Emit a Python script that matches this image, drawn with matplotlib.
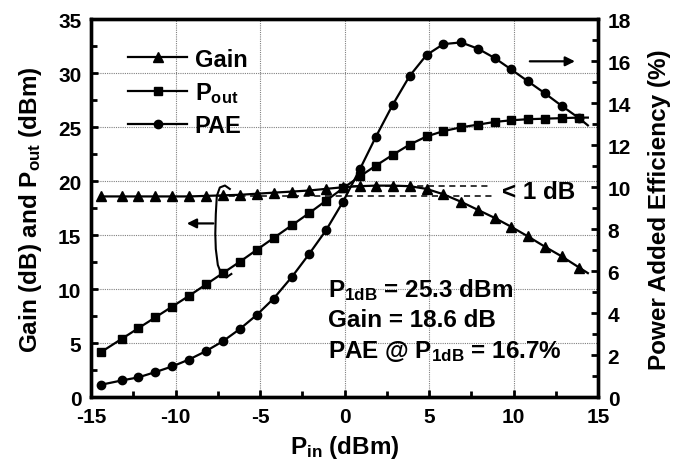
"""Gain, Pout and PAE versus input power.

"""

import numpy as np
import matplotlib
matplotlib.use("Agg")
import matplotlib.pyplot as plt
from matplotlib.lines import Line2D
from matplotlib.ticker import MultipleLocator

plt.rcParams["font.family"] = ["Liberation Sans", "DejaVu Sans"]
plt.rcParams["font.weight"] = "bold"
plt.rcParams["axes.unicode_minus"] = False
plt.rcParams["mathtext.fontset"] = "custom"
plt.rcParams["mathtext.rm"] = "Liberation Sans:bold"
plt.rcParams["mathtext.it"] = "Liberation Sans:bold"
plt.rcParams["mathtext.bf"] = "Liberation Sans:bold"

# Data
pin = [-14.4, -13.2, -12.2, -11.2, -10.2, -9.2, -8.2, -7.2, -6.2, -5.2,
       -4.2, -3.1, -2.1, -1.1, -0.1, 0.9, 1.85, 2.85, 3.85, 4.85,
       5.85, 6.9, 7.9, 8.9, 9.85, 10.85, 11.85, 12.85, 13.9, 14.4]
gain = [18.6, 18.6, 18.6, 18.6, 18.6, 18.6, 18.65, 18.7, 18.75, 18.85,
        18.95, 19.05, 19.15, 19.3, 19.45, 19.55, 19.6, 19.6, 19.55, 19.3,
        18.8, 18.1, 17.35, 16.6, 15.8, 14.9, 13.95, 13.05, 12.0, 11.5]
pout = [4.2, 5.4, 6.4, 7.4, 8.4, 9.4, 10.45, 11.5, 12.55, 13.65,
        14.75, 15.95, 17.05, 18.2, 19.35, 20.45, 21.45, 22.45, 23.4, 24.15,
        24.65, 25.0, 25.25, 25.5, 25.65, 25.75, 25.8, 25.85, 25.9, 25.9]
pae = [0.6, 0.8, 0.95, 1.2, 1.47, 1.8, 2.2, 2.67, 3.25, 3.92,
       4.7, 5.75, 6.82, 7.95, 9.3, 10.85, 12.4, 13.93, 15.3, 16.3,
       16.82, 16.9, 16.6, 16.15, 15.62, 15.05, 14.48, 13.88, 13.28, 12.95]

gain_max = 19.6
gain_ss = 18.6

notes = [r"P$_{\rm 1dB}$ = 25.3 dBm", "Gain = 18.6 dB",
         r"PAE @ P$_{\rm 1dB}$ = 16.7%"]

# Create figure
fig = plt.figure(figsize=(6.85, 4.64), dpi=100)
ax = fig.add_axes([0.133, 0.1416, 0.74, 0.8146])
ax2 = ax.twinx()

marks = list(range(len(pin) - 1))
kw = dict(color="black", linewidth=1.6, markevery=marks)
ax.plot(pin, gain, marker="^", markersize=6.5, **kw)
ax.plot(pin, pout, marker="s", markersize=5.5, **kw)
ax2.plot(pin, pae, marker="o", markersize=6, **kw)

# Compression lines
ax.plot([0.5, 8.75], [gain_max, gain_max], color="black", linestyle="--",
        linewidth=1.1, dashes=(4, 3))
ax.plot([-7.5, 8.75], [gain_ss, gain_ss], color="black", linestyle="--",
        linewidth=1.1, dashes=(4, 3))
ax.text(9.3, 19.05, "< 1 dB", fontsize=17.5, fontweight="bold",
        va="center", ha="left")

# Notes
for i, s in enumerate(notes):
    ax.text(-1.0, 10.03 - i * 2.87, s, fontsize=17.5, fontweight="bold",
            va="center", ha="left")

# Arrows to the axes
ax.annotate("", xy=(-9.5, 16.1), xytext=(-7.6, 16.1),
            arrowprops=dict(arrowstyle="-|>", color="black", lw=1.6,
                            mutation_scale=14))
ax2.annotate("", xy=(13.8, 16.0), xytext=(10.8, 16.0),
             arrowprops=dict(arrowstyle="-|>", color="black", lw=1.6,
                             mutation_scale=14))

# Bracket that ties the two left-axis curves together
bx = [-6.79, -7.08, -7.38, -7.56, -7.62, -7.65, -7.62, -7.5, -7.29, -7.0, -6.7]
by = [19.29, 19.61, 19.43, 18.64, 16.97, 15.12, 13.73, 12.25, 11.42, 11.1, 11.42]
ax.plot(bx, by, color="black", linewidth=1.5)

# Legend
handles = [
    Line2D([], [], color="black", lw=1.6, marker="^", markersize=6.5),
    Line2D([], [], color="black", lw=1.6, marker="s", markersize=5.5),
    Line2D([], [], color="black", lw=1.6, marker="o", markersize=6),
]
labels = ["Gain", r"P$_{\rm out}$", "PAE"]
leg = ax.legend(handles, labels, loc="upper left", frameon=False,
                fontsize=17, handlelength=2.5, handletextpad=0.3,
                labelspacing=0.4, bbox_to_anchor=(0.055, 0.95),
                borderaxespad=0.0)

# Tidy up
ax.set_xlim(-15, 15)
ax.set_ylim(0, 35)
ax2.set_ylim(0, 18)
ax.xaxis.set_major_locator(MultipleLocator(5))
ax.xaxis.set_minor_locator(MultipleLocator(2.5))
ax.yaxis.set_major_locator(MultipleLocator(5))
ax.yaxis.set_minor_locator(MultipleLocator(2.5))
ax2.yaxis.set_major_locator(MultipleLocator(2))
ax2.yaxis.set_minor_locator(MultipleLocator(1))

ax.grid(True, which="major", color="#808080", linestyle=(0, (1, 1)),
        linewidth=0.8)

for a in (ax, ax2):
    for sp in a.spines.values():
        sp.set_linewidth(2.4)
    a.tick_params(which="both", direction="in", width=2, labelsize=15)
    a.tick_params(which="major", length=5)
    a.tick_params(which="minor", length=4)
ax.tick_params(axis="both", pad=7)
ax2.tick_params(axis="y", pad=7)

for lab in ax.get_xticklabels() + ax.get_yticklabels() + ax2.get_yticklabels():
    lab.set_fontweight("bold")

ax.set_xlabel(r"P$_{\rm in}$ (dBm)", fontsize=17.5, fontweight="bold",
              va="center")
ax.set_ylabel(r"Gain (dB) and P$_{\rm out}$ (dBm)", fontsize=17.5,
              fontweight="bold", va="center")
ax2.set_ylabel("Power Added Efficiency (%)", fontsize=17.5,
               fontweight="bold", va="center")
ax.xaxis.set_label_coords(0.5, -0.131)
ax.yaxis.set_label_coords(-0.12, 0.5)
ax2.yaxis.set_label_coords(1.122, 0.5)

plt.savefig("out.png", dpi=100)
plt.close()
